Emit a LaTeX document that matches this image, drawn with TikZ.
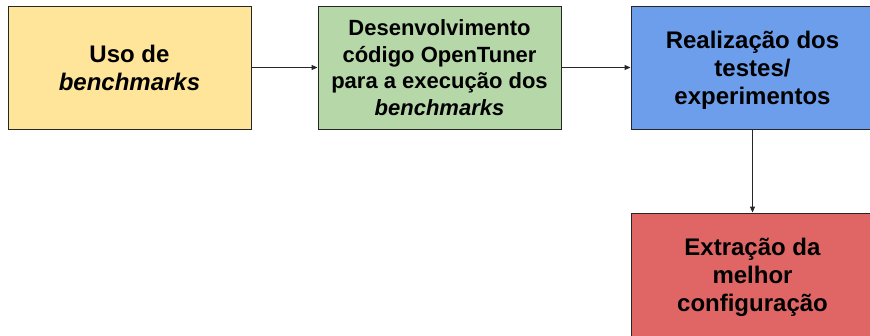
\documentclass[tikz,border=0pt]{standalone}
\usepackage{fontspec}
\setmainfont{Liberation Sans}
\usetikzlibrary{arrows.meta}
\definecolor{boxyellow}{HTML}{FFE599}
\definecolor{boxgreen}{HTML}{B6D7A8}
\definecolor{boxblue}{HTML}{6D9EEB}
\definecolor{boxred}{HTML}{E06666}
\tikzset{
  stagebox/.style={draw=black!85, line width=0.9pt, rectangle,
    minimum width=243pt, minimum height=123pt, inner sep=0pt,
    align=center, font=\bfseries\fontsize{24}{28}\selectfont},
  flowarrow/.style={draw=black!85, line width=0.9pt,
    -{Triangle[length=6pt,width=5pt]}}
}
\begin{document}
\begin{tikzpicture}[x=1pt,y=-1pt]
  \useasboundingbox (0,0) rectangle (870,335);
  \node[stagebox, fill=boxyellow] (uso) at (129.5,67.5)
    {Uso de\\\textit{benchmarks}};
  \node[stagebox, fill=boxgreen, font=\bfseries\fontsize{22}{26.5}\selectfont] (dev) at (439.5,67.5)
    {Desenvolvimento\\código OpenTuner\\para a execução dos\\\textit{benchmarks}};
  \node[stagebox, fill=boxblue, text depth=0pt] (testes) at (752.5,67.5)
    {Realização dos\\testes/\\experimentos};
  \node[stagebox, fill=boxred, text depth=0pt] (extr) at (752.5,274.5)
    {Extração da\\melhor\\configuração};
  \draw[flowarrow] (uso) -- (dev);
  \draw[flowarrow] (dev) -- (testes);
  \draw[flowarrow] (testes) -- (extr);
\end{tikzpicture}
\end{document}
